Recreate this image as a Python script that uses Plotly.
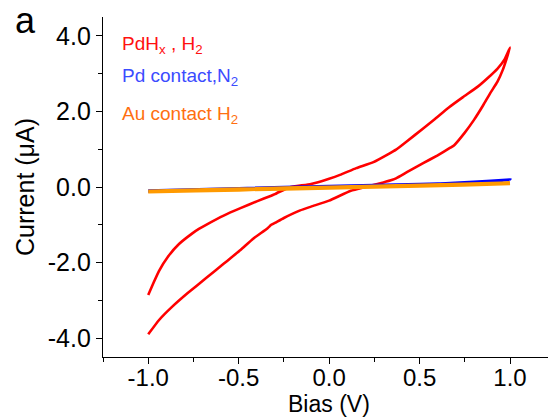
import plotly.graph_objects as go

# PdHx device in H2: sweep -1 V -> +1 V (upper branch), then back to -1 V (lower branch)
pdhx_bias = [
    -1.00, -0.97, -0.94, -0.89, -0.83, -0.76, -0.72, -0.68, -0.58, -0.49, -0.40,
    -0.32, -0.30, -0.28, -0.22, -0.10, 0.00, 0.06, 0.15, 0.245, 0.33,
    0.37, 0.39, 0.47, 0.58, 0.66, 0.74, 0.82, 0.88, 0.93, 0.97, 1.00,
    0.98, 0.96, 0.93, 0.89, 0.85, 0.80, 0.75, 0.69, 0.67, 0.60, 0.52, 0.44,
    0.37, 0.35, 0.30, 0.20, 0.12, 0.00, -0.10, -0.16, -0.25, -0.30,
    -0.32, -0.34, -0.42, -0.49, -0.58, -0.68, -0.78, -0.87, -0.94, -1.00,
]
pdhx_current = [
    -2.86, -2.53, -2.22, -1.84, -1.51, -1.24, -1.11, -1.00, -0.75, -0.56, -0.38,
    -0.23, -0.19, -0.14, -0.01, 0.08, 0.22, 0.32, 0.50, 0.66, 0.88,
    0.99, 1.06, 1.36, 1.78, 2.10, 2.38, 2.65, 2.90, 3.13, 3.38, 3.69,
    3.38, 3.10, 2.78, 2.48, 2.15, 1.77, 1.44, 1.10, 1.04, 0.84, 0.63, 0.42,
    0.23, 0.19, 0.12, 0.00, -0.10, -0.36, -0.52, -0.62, -0.82, -0.95,
    -1.00, -1.09, -1.37, -1.67, -2.02, -2.41, -2.80, -3.18, -3.52, -3.90,
]

# Pd contact in N2
pd_n2_bias = [-1.00, -0.50, 0.00, 0.50, 0.80, 1.00, 0.80, 0.50, 0.00, -0.50, -1.00]
pd_n2_current = [-0.10, -0.04, 0.02, 0.07, 0.12, 0.19, 0.13, 0.06, 0.01, -0.05, -0.11]

# Au contact in H2
au_h2_bias = [-1.00, -0.50, 0.00, 0.50, 1.00, 0.50, 0.00, -0.50, -1.00]
au_h2_current = [-0.12, -0.06, -0.01, 0.04, 0.10, 0.03, -0.02, -0.07, -0.12]

x_tickvals = [-1.0, -0.5, 0.0, 0.5, 1.0]
x_ticktext = ["-1.0", "-0.5", "0.0", "0.5", "1.0"]
y_tickvals = [-4.0, -2.0, 0.0, 2.0, 4.0]
y_ticktext = ["-4.0", "-2.0", "0.0", "2.0", "4.0"]

legend_labels = [
    "PdH<sub>x</sub> , H<sub>2</sub>",
    "Pd contact,N<sub>2</sub>",
    "Au contact H<sub>2</sub>",
]
legend_colors = ["#ff1010", "#3b4cff", "#ff6f10"]

FONT = "Liberation Sans, Arial, sans-serif"

fig = go.Figure()
fig.add_trace(go.Scatter(x=pdhx_bias, y=pdhx_current, mode="lines",
                         line=dict(color="#ff0000", width=2.6, shape="spline", smoothing=0.4)))
fig.add_trace(go.Scatter(x=pd_n2_bias, y=pd_n2_current, mode="lines",
                         line=dict(color="#0000ff", width=3, shape="spline", smoothing=0.6)))
fig.add_trace(go.Scatter(x=au_h2_bias, y=au_h2_current, mode="lines",
                         line=dict(color="#ff9a00", width=4, shape="spline", smoothing=0.6)))

# Plot area in pixels: x 103..548, y 17..357
L, R, T, B = 103, 548, 17, 357
W, H = R - L, B - T


def px(x):
    return (x - L) / W


def py(y):
    return (B - y) / H


annotations = []
for label, color, ypix in zip(legend_labels, legend_colors, [45, 77, 115]):
    annotations.append(dict(text=label, x=px(120), y=py(ypix), xref="paper", yref="paper",
                            xanchor="left", yanchor="middle", showarrow=False,
                            font=dict(family=FONT, size=19, color=color)))
annotations.append(dict(text="a", x=px(25), y=py(21), xref="paper", yref="paper",
                        xanchor="center", yanchor="middle", showarrow=False,
                        font=dict(family=FONT, size=36, color="black")))
# x-axis title placed as an annotation so it sits just under the tick labels
annotations.append(dict(text="Bias (V)", x=px(329), y=py(404), xref="paper", yref="paper",
                        xanchor="center", yanchor="middle", showarrow=False,
                        font=dict(family=FONT, size=23, color="black")))

fig.update_layout(
    width=548, height=417,
    margin=dict(l=L, r=548 - R, t=T, b=417 - B, pad=0),
    paper_bgcolor="white", plot_bgcolor="white",
    showlegend=False,
    font=dict(family=FONT, size=24, color="black"),
    annotations=annotations,
)
fig.update_xaxes(
    range=[-1.25, 1.21], showgrid=False, zeroline=False,
    showline=True, linecolor="black", linewidth=1.3,
    ticks="outside", ticklen=6, tickwidth=1.3, tickcolor="black",
    tickmode="array", tickvals=x_tickvals, ticktext=x_ticktext,
    ticklabelstandoff=-7,
    minor=dict(ticks="outside", ticklen=4, tickwidth=1.2, tickcolor="black", dtick=0.25, tick0=0),
    tickfont=dict(size=24), automargin=False,
)
fig.update_yaxes(
    range=[-4.5, 4.5], showgrid=False, zeroline=False,
    showline=True, linecolor="black", linewidth=1.3,
    ticks="outside", ticklen=6, tickwidth=1.3, tickcolor="black",
    tickmode="array", tickvals=y_tickvals, ticktext=y_ticktext,
    minor=dict(ticks="outside", ticklen=4, tickwidth=1.2, tickcolor="black", dtick=1, tick0=0),
    title=dict(text="Current (\u03bcA)", standoff=6, font=dict(size=25)),
    tickfont=dict(size=25), automargin=False,
)

fig.write_html("out.html")
